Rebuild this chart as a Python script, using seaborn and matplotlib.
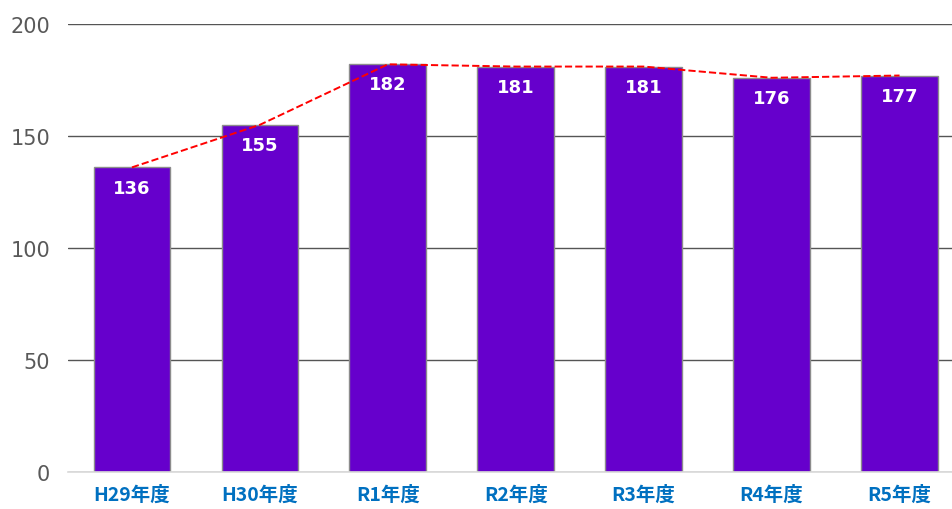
import pandas as pd
import matplotlib.pyplot as plt
import seaborn as sns

# ── Data ─────────────────────────────────────────────────────
years = ["H29年度", "H30年度", "R1年度", "R2年度", "R3年度", "R4年度", "R5年度"]
counts = [136, 155, 182, 181, 181, 176, 177]

df = pd.DataFrame({"year": years, "count": counts})

sns.set_theme(style="white")
plt.rcParams["font.family"] = ["Noto Sans CJK JP", "DejaVu Sans"]

fig = plt.figure(figsize=(9.52, 5.10), dpi=100)
ax = fig.add_axes([68 / 952, 37 / 510, 884 / 952, 448 / 510])

sns.barplot(data=df, x="year", y="count", color="#6600CC", saturation=1,
            width=0.6, edgecolor="#8C8C8C", linewidth=1, ax=ax, zorder=2)

# red dashed trend line through bar tops
ax.plot(range(len(counts)), counts, color="#FF0000", linestyle="--",
        linewidth=1.4, zorder=3)

# value labels inside bars
for i, v in enumerate(counts):
    ax.text(i, v - 9, str(v), ha="center", va="center", color="white",
            fontsize=13, fontweight="bold", family=["DejaVu Sans"], zorder=4)

ax.set_ylim(0, 200)
ax.set_xlim(-0.5, 6.41)
ax.set_yticks([0, 50, 100, 150, 200])
ax.yaxis.grid(True, color="#555555", linewidth=1)
ax.set_axisbelow(True)
for s in ["top", "right", "left"]:
    ax.spines[s].set_visible(False)
ax.spines["bottom"].set_color("#D9D9D9")
ax.spines["bottom"].set_linewidth(1.2)

ax.set_xlabel("")
ax.set_ylabel("")
ax.tick_params(axis="y", colors="#595959", labelsize=15, length=0, pad=13)
ax.tick_params(axis="x", length=0, pad=9)
for lbl in ax.get_xticklabels():
    lbl.set_color("#0070C0")
    lbl.set_fontweight("bold")
    lbl.set_fontsize(14)
for lbl in ax.get_yticklabels():
    lbl.set_family(["DejaVu Sans"])

plt.savefig("out.png", dpi=100)
